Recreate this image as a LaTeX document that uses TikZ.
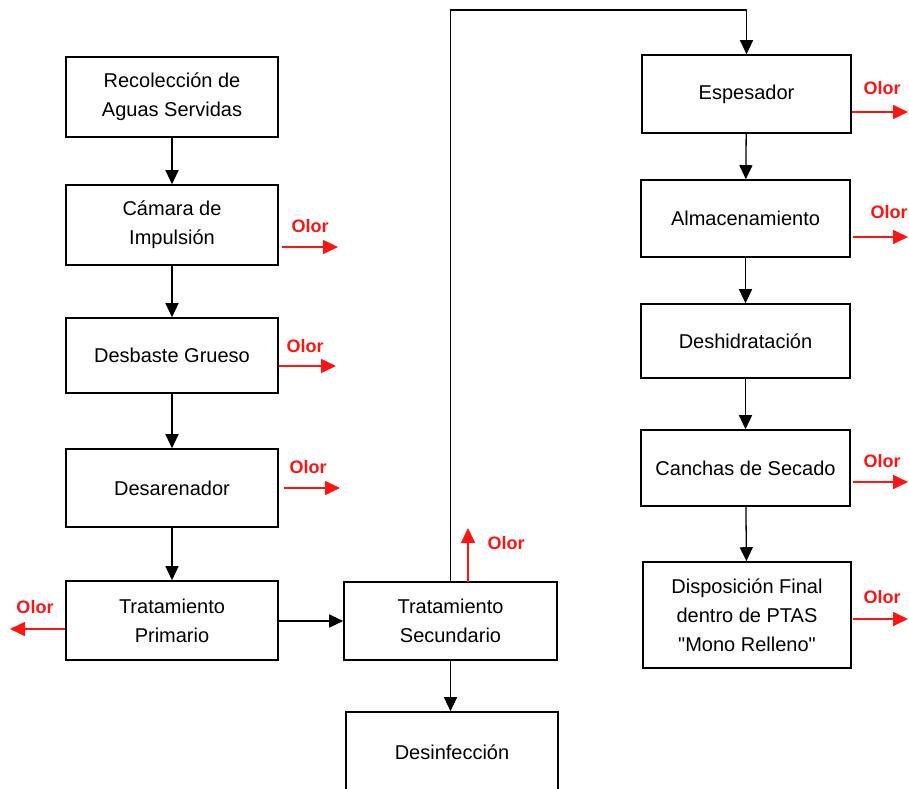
\documentclass[tikz,border=0pt]{standalone}
\usepackage{fontspec}
\setmainfont{Liberation Sans}[Ligatures=TeXOff]
\usetikzlibrary{arrows.meta, positioning}
\definecolor{olorred}{RGB}{255, 20, 20}

\begin{document}
\begin{tikzpicture}[x=1pt, y=-1pt,
    box/.style={draw, line width=1.6pt, minimum width=212pt, align=center, inner sep=2pt,
        font=\fontsize{20}{29}\selectfont},
    flow/.style={line width=1.3pt, -{Triangle[length=14pt,width=13pt]}},
    olor/.style={draw=olorred, line width=1.6pt, -{Triangle[length=15pt,width=14pt]}},
    olortxt/.style={text=olorred, font=\fontsize{18}{18}\selectfont\bfseries, inner sep=0pt}]
    \useasboundingbox (0,0) rectangle (909,788);
    % left column
    \node [box, minimum height=80pt] (rec) at (172,97) {Recolección de\\Aguas Servidas};
    \node [box, minimum height=80pt] (cam) at (172,225) {Cámara de\\Impulsión};
    \node [box, minimum height=75pt] (desb) at (172,355.5) {Desbaste Grueso};
    \node [box, minimum height=78pt] (desa) at (172,488) {Desarenador};
    \node [box, minimum height=79pt] (prim) at (172,620.5) {Tratamiento\\Primario};
    % middle column
    \node [box, minimum height=78pt, minimum width=213pt] (sec) at (450.5,621) {Tratamiento\\Secundario};
    \node [box, minimum height=120pt, text depth=40pt] (desi) at (452,772) {Desinfección};
    % right column
    \node [box, minimum height=78pt, minimum width=209pt] (esp) at (746.5,94) {Espesador};
    \node [box, minimum height=77pt, minimum width=209pt] (alm) at (745.5,218.5) {Almacenamiento};
    \node [box, minimum height=74pt, minimum width=209pt] (desh) at (745.5,341) {Deshidratación};
    \node [box, minimum height=76pt, minimum width=209pt] (can) at (745.5,468) {Canchas de Secado};
    \node [box, minimum height=106pt, minimum width=208pt] (disp) at (747,615)
        {Disposición Final\\dentro de PTAS\\"Mono Relleno"};

    % main flow
    \draw [flow] (rec) -- (cam);
    \draw [flow] (cam) -- (desb);
    \draw [flow] (desb) -- (desa);
    \draw [flow] (desa) -- (prim);
    \draw [flow] (prim.east |- sec.west) -- (sec.west);
    \draw [flow] (sec.south) -- (sec.south |- desi.north);
    \coordinate (top) at (600,10);
    \draw [flow] (sec.north) |- (top) -| (esp.north);
    \draw [flow] (esp) -- (alm);
    \draw [flow] (alm) -- (desh);
    \draw [flow] (desh) -- (can);
    \draw [flow] (can) -- (disp);

    % odour outlets
    \coordinate (o1) at (338,247);
    \coordinate (o2) at (336,366);
    \coordinate (o3) at (340,488);
    \coordinate (o4) at (10,629);
    \coordinate (o5s) at (468,582);
    \coordinate (o5) at (468,528);
    \coordinate (o6) at (908,112);
    \coordinate (o7) at (908,237);
    \coordinate (o8) at (908,482);
    \coordinate (o9) at (908,619);
    \draw [olor] ([xshift=3pt]cam.east |- o1) -- (o1);
    \draw [olor] (desb.east |- o2) -- (o2);
    \draw [olor] ([xshift=5pt]desa.east |- o3) -- (o3);
    \draw [olor] (prim.west |- o4) -- (o4);
    \draw [olor] (o5s) -- (o5);
    \draw [olor] (esp.east |- o6) -- (o6);
    \draw [olor] ([xshift=2pt]alm.east |- o7) -- (o7);
    \draw [olor] ([xshift=2pt]can.east |- o8) -- (o8);
    \draw [olor] ([xshift=1pt]disp.east |- o9) -- (o9);
    \node [olortxt] (l1) at (310,226) {Olor};
    \node [olortxt] (l2) at (305,346) {Olor};
    \node [olortxt] (l3) at (308,467) {Olor};
    \node [olortxt] (l4) at (35,607) {Olor};
    \node [olortxt] (l5) at (506,543) {Olor};
    \node [olortxt] (l6) at (882,88) {Olor};
    \node [olortxt] (l7) at (889,212) {Olor};
    \node [olortxt] (l8) at (882,461) {Olor};
    \node [olortxt] (l9) at (882,597) {Olor};
\end{tikzpicture}
\end{document}
